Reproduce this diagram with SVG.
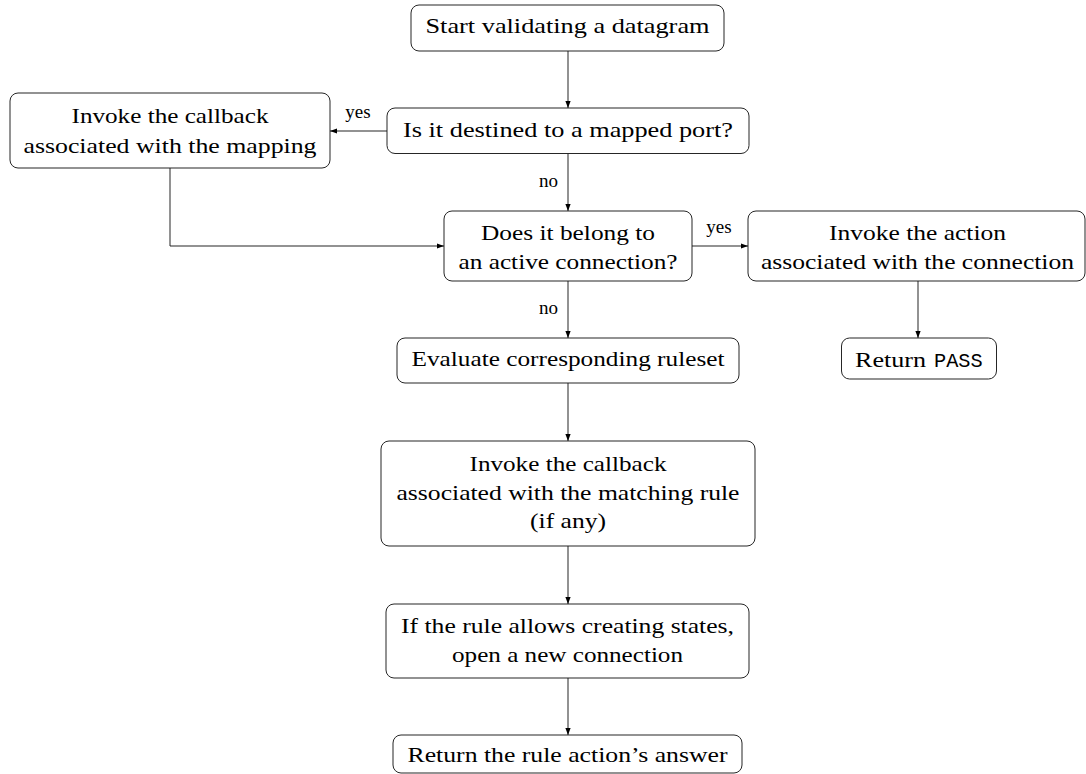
<svg xmlns="http://www.w3.org/2000/svg" width="1086" height="774" viewBox="0 0 1086 774">
<defs>
<style>
.box{fill:#fff;stroke:#1a1a1a;stroke-width:0.95}
.t{font-family:"Liberation Serif","Times New Roman",serif;font-size:22px;fill:#000;text-anchor:middle}
.tl{font-family:"Liberation Serif","Times New Roman",serif;font-size:22px;fill:#000}
.mono{font-family:"Liberation Mono","Courier New",monospace;font-size:20.3px;fill:#000}
.lbl{font-family:"Liberation Serif","Times New Roman",serif;font-size:19px;fill:#000;text-anchor:middle}
.edge{fill:none;stroke:#1a1a1a;stroke-width:0.95}
</style>
<marker id="arr" markerUnits="userSpaceOnUse" markerWidth="8" markerHeight="6" refX="7" refY="2.6" orient="auto">
<path d="M0,0 L7,2.6 L0,5.2 z" fill="#000"/>
</marker>
</defs>
<rect width="1086" height="774" fill="#fff"/>

<g id="connectors">
<line class="edge" x1="568" y1="51" x2="568" y2="108" marker-end="url(#arr)"/>
<line class="edge" x1="387" y1="131" x2="330" y2="131" marker-end="url(#arr)"/>
<text class="lbl" x="358" y="118">yes</text>
<line class="edge" x1="568" y1="153.5" x2="568" y2="211" marker-end="url(#arr)"/>
<text class="lbl" x="548.5" y="187">no</text>
<path class="edge" d="M170,168 V246 H444" marker-end="url(#arr)"/>
<line class="edge" x1="692" y1="246" x2="748" y2="246" marker-end="url(#arr)"/>
<text class="lbl" x="719" y="233">yes</text>
<line class="edge" x1="568" y1="281" x2="568" y2="338" marker-end="url(#arr)"/>
<text class="lbl" x="548.5" y="314">no</text>
<line class="edge" x1="918" y1="281" x2="918" y2="338" marker-end="url(#arr)"/>
<line class="edge" x1="568" y1="383" x2="568" y2="441" marker-end="url(#arr)"/>
<line class="edge" x1="568" y1="546" x2="568" y2="604" marker-end="url(#arr)"/>
<line class="edge" x1="568" y1="678" x2="568" y2="735" marker-end="url(#arr)"/>
</g>

<g id="start">
<rect class="box" x="411" y="5" width="313" height="46" rx="8"/>
<text class="t" x="567.5" y="33" textLength="284" lengthAdjust="spacingAndGlyphs">Start validating a datagram</text>
</g>

<g id="mapped-port">
<rect class="box" x="387" y="108" width="362" height="45.5" rx="8"/>
<text class="t" x="568" y="136.5" textLength="330" lengthAdjust="spacingAndGlyphs">Is it destined to a mapped port?</text>
</g>

<g id="callback-mapping">
<rect class="box" x="10" y="93" width="320" height="75" rx="8"/>
<text class="t" x="170" y="123" textLength="197" lengthAdjust="spacingAndGlyphs">Invoke the callback</text>
<text class="t" x="170" y="153" textLength="293" lengthAdjust="spacingAndGlyphs">associated with the mapping</text>
</g>

<g id="active-connection">
<rect class="box" x="444" y="211" width="248" height="70" rx="8"/>
<text class="t" x="568" y="240" textLength="174" lengthAdjust="spacingAndGlyphs">Does it belong to</text>
<text class="t" x="568" y="269" textLength="219" lengthAdjust="spacingAndGlyphs">an active connection?</text>
</g>

<g id="invoke-action">
<rect class="box" x="748" y="211" width="337" height="70" rx="8"/>
<text class="t" x="917.5" y="240" textLength="177" lengthAdjust="spacingAndGlyphs">Invoke the action</text>
<text class="t" x="917.5" y="269" textLength="313" lengthAdjust="spacingAndGlyphs">associated with the connection</text>
</g>

<g id="return-pass">
<rect class="box" x="841.5" y="338" width="155" height="41" rx="8"/>
<text class="tl" x="855" y="366.5" textLength="71" lengthAdjust="spacingAndGlyphs">Return</text>
<text class="mono" x="934" y="366.5" textLength="48.7" lengthAdjust="spacingAndGlyphs">PASS</text>
</g>

<g id="evaluate-ruleset">
<rect class="box" x="397" y="338" width="342" height="45" rx="8"/>
<text class="t" x="568" y="366" textLength="313" lengthAdjust="spacingAndGlyphs">Evaluate corresponding ruleset</text>
</g>

<g id="callback-rule">
<rect class="box" x="381" y="441" width="374" height="105" rx="8"/>
<text class="t" x="568" y="471" textLength="197" lengthAdjust="spacingAndGlyphs">Invoke the callback</text>
<text class="t" x="568" y="500" textLength="343" lengthAdjust="spacingAndGlyphs">associated with the matching rule</text>
<text class="t" x="568" y="528" textLength="76" lengthAdjust="spacingAndGlyphs">(if any)</text>
</g>

<g id="create-state">
<rect class="box" x="386" y="604" width="363" height="74" rx="8"/>
<text class="t" x="567.5" y="633" textLength="333" lengthAdjust="spacingAndGlyphs">If the rule allows creating states,</text>
<text class="t" x="567.5" y="662" textLength="231" lengthAdjust="spacingAndGlyphs">open a new connection</text>
</g>

<g id="return-answer">
<rect class="box" x="393" y="735" width="349" height="38" rx="8"/>
<text class="t" x="567.5" y="762" textLength="320" lengthAdjust="spacingAndGlyphs">Return the rule action’s answer</text>
</g>
</svg>
